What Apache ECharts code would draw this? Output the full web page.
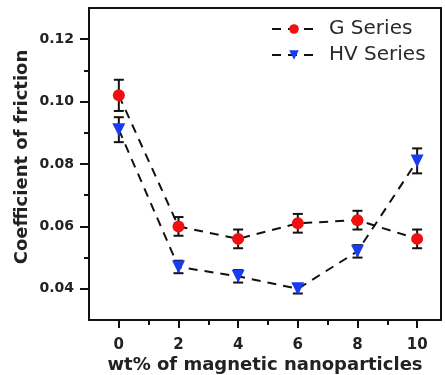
<!DOCTYPE html>
<html><head><meta charset="utf-8">
<script src="https://cdn.jsdelivr.net/npm/echarts@6/dist/echarts.min.js"></script>
<style>html,body{margin:0;padding:0;background:#fff}#c{width:445px;height:375px}</style>
</head><body><div id="c"></div>
<script>
const xValues = [0, 2, 4, 6, 8, 10];
const gSeries = [0.102, 0.060, 0.056, 0.061, 0.062, 0.056];
const gErr = [0.005, 0.003, 0.003, 0.003, 0.003, 0.003];
const hvSeries = [0.091, 0.047, 0.044, 0.040, 0.052, 0.081];
const hvErr = [0.004, 0.002, 0.002, 0.0015, 0.002, 0.004];
const xTicks = [0, 2, 4, 6, 8, 10];
const xMinorTicks = [1, 3, 5, 7, 9];
const yTicks = [0.04, 0.06, 0.08, 0.10, 0.12];
const yMinorTicks = [0.05, 0.07, 0.09, 0.11];

const chart = echarts.init(document.getElementById('c'));
const font = 'DejaVu Sans, sans-serif';

function errSeries(vals, errs) {
  return {
    type: 'custom',
    z: 3,
    silent: true,
    data: xValues.map((x, i) => [x, vals[i] - errs[i], vals[i] + errs[i]]),
    renderItem: function (params, api) {
      const lo = api.coord([api.value(0), api.value(1)]);
      const hi = api.coord([api.value(0), api.value(2)]);
      const w = 5;
      const st = { stroke: '#111', lineWidth: 2 };
      return { type: 'group', children: [
        { type: 'line', shape: { x1: lo[0], y1: lo[1], x2: hi[0], y2: hi[1] }, style: st },
        { type: 'line', shape: { x1: lo[0]-w, y1: lo[1], x2: lo[0]+w, y2: lo[1] }, style: st },
        { type: 'line', shape: { x1: hi[0]-w, y1: hi[1], x2: hi[0]+w, y2: hi[1] }, style: st }
      ]};
    }
  };
}

const axisLine = { onZero: false, lineStyle: { color: '#111', width: 2 } };
chart.setOption({
  animation: false,
  grid: { left: 89, right: 4, top: 8, bottom: 55, containLabel: false, outerBoundsMode: 'none' },
  legend: {
    left: 266, top: 14, orient: 'vertical', itemGap: 6,
    itemWidth: 44, itemHeight: 12,
    textStyle: { fontFamily: font, fontSize: 20, color: '#2a2a2a', padding: [0, 0, 0, 8] },
    data: ['G Series', 'HV Series']
  },
  xAxis: [{
    type: 'value', min: -1, max: 10.8, interval: 1,
    axisLine: axisLine,
    axisTick: { show: true, length: 8, lineStyle: { color: '#111', width: 2 }, customValues: xTicks },
    axisLabel: { customValues: xTicks, fontFamily: font, fontWeight: 'bold', fontSize: 15, color: '#222', margin: 18 },
    splitLine: { show: false },
    name: 'wt% of magnetic nanoparticles', nameLocation: 'middle', nameGap: 36, nameMoveOverlap: false,
    nameTextStyle: { fontFamily: font, fontWeight: 'bold', fontSize: 18, color: '#222' }
  }, {
    type: 'value', min: -1, max: 10.8, interval: 1, position: 'bottom', gridIndex: 0,
    axisLine: { show: false, onZero: false },
    axisTick: { show: true, length: 5, lineStyle: { color: '#111', width: 2 }, customValues: xMinorTicks },
    axisLabel: { show: false }, splitLine: { show: false }
  }, {
    type: 'value', min: -1, max: 10.8, position: 'top',
    axisLine: axisLine, axisTick: { show: false }, axisLabel: { show: false }, splitLine: { show: false }
  }],
  yAxis: [{
    type: 'value', min: 0.03, max: 0.13, interval: 0.01,
    axisLine: axisLine,
    axisTick: { show: true, length: 9, lineStyle: { color: '#111', width: 2 }, customValues: yTicks },
    axisLabel: { customValues: yTicks, formatter: v => v.toFixed(2), fontFamily: font, fontWeight: 'bold', fontSize: 14, color: '#222', margin: 15 },
    splitLine: { show: false },
    name: 'Coefficient of friction', nameLocation: 'middle', nameGap: 58, nameMoveOverlap: false,
    nameTextStyle: { fontFamily: font, fontWeight: 'bold', fontSize: 18, color: '#222', padding: [0, 0, 0, 14] }
  }, {
    type: 'value', min: 0.03, max: 0.13, interval: 0.01, position: 'left',
    axisLine: { show: false, onZero: false },
    axisTick: { show: true, length: 5, lineStyle: { color: '#111', width: 2 }, customValues: yMinorTicks },
    axisLabel: { show: false }, splitLine: { show: false }
  }, {
    type: 'value', min: 0.03, max: 0.13, position: 'right',
    axisLine: axisLine, axisTick: { show: false }, axisLabel: { show: false }, splitLine: { show: false }
  }],
  series: [
    errSeries(gSeries, gErr),
    errSeries(hvSeries, hvErr),
    {
      name: 'G Series', type: 'line', z: 4,
      data: xValues.map((x, i) => [x, gSeries[i]]),
      symbol: 'circle', symbolSize: 12,
      itemStyle: { color: '#f01010' },
      lineStyle: { color: '#111', width: 2, type: [9, 7] }
    },
    {
      name: 'HV Series', type: 'line', z: 4,
      data: xValues.map((x, i) => [x, hvSeries[i]]),
      symbol: 'triangle', symbolRotate: 180, symbolSize: 13,
      itemStyle: { color: '#1a3cf0' },
      lineStyle: { color: '#111', width: 2, type: [9, 7] }
    }
  ]
});
</script></body></html>
